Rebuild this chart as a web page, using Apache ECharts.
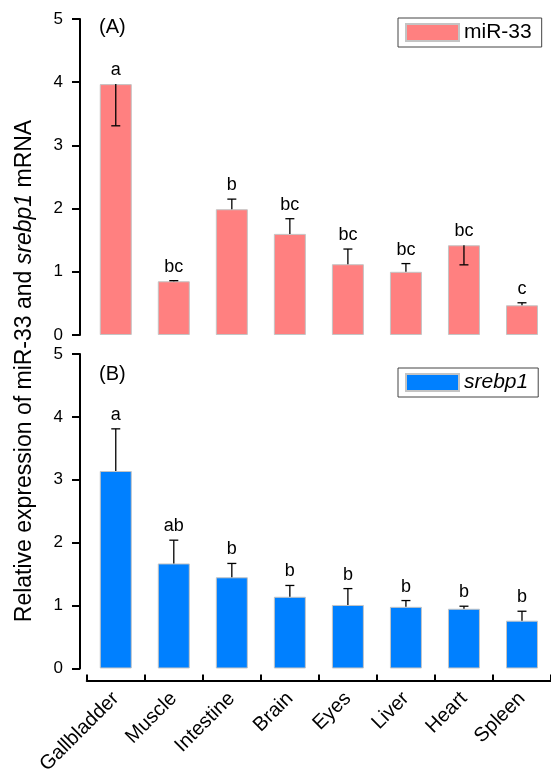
<!DOCTYPE html>
<html>
<head>
<meta charset="utf-8">
<script src="https://cdn.jsdelivr.net/npm/echarts@6/dist/echarts.min.js"></script>
<style>
  html, body { margin: 0; padding: 0; background: #fff; }
  #chart { width: 551px; height: 777px; }
</style>
</head>
<body>
<div id="chart"></div>
<script>
// Tissues along the shared x axis
const tissues = ['Gallbladder', 'Muscle', 'Intestine', 'Brain', 'Eyes', 'Liver', 'Heart', 'Spleen'];
const yTicks = [0, 1, 2, 3, 4, 5];

// (A) miR-33: bar heights, whisker ends, significance letters
const mirMean    = [3.97, 0.85, 1.99, 1.60, 1.12, 1.00, 1.42, 0.47];
const mirErrLow  = [3.31, 0.85, 1.99, 1.60, 1.12, 1.00, 1.11, 0.47];
const mirErrHigh = [3.97, 0.86, 2.15, 1.84, 1.36, 1.13, 1.42, 0.51];
const mirLetters = ['a', 'bc', 'b', 'bc', 'bc', 'bc', 'bc', 'c'];

// (B) srebp1: bar heights, whisker ends, significance letters
const srebMean    = [3.14, 1.67, 1.45, 1.14, 1.01, 0.98, 0.95, 0.76];
const srebErrLow  = [3.14, 1.67, 1.45, 1.14, 1.01, 0.98, 0.95, 0.76];
const srebErrHigh = [3.81, 2.04, 1.67, 1.32, 1.27, 1.08, 0.99, 0.91];
const srebLetters = ['a', 'ab', 'b', 'b', 'b', 'b', 'b', 'b'];

const FONT = '"Liberation Sans", Arial, Helvetica, sans-serif';
const INK = '#000';

const chart = echarts.init(document.getElementById('chart'), null, { renderer: 'canvas' });

// Whisker plus letter drawn per bar; data rows are [index, low, high, mean]
function whisker(letters) {
  return function (params, api) {
    const i = api.value(0);
    const low = api.value(1), high = api.value(2), mean = api.value(3);
    const pLow = api.coord([i, low]);
    const pHigh = api.coord([i, high]);
    const pTop = api.coord([i, Math.max(high, mean)]);
    const x = pLow[0];
    const cap = 4.5;
    const ls = { stroke: INK, lineWidth: 1.3 };
    const kids = [
      { type: 'line', shape: { x1: x, y1: pLow[1], x2: x, y2: pHigh[1] }, style: ls }
    ];
    if (high > mean) kids.push({ type: 'line', shape: { x1: x - cap, y1: pHigh[1], x2: x + cap, y2: pHigh[1] }, style: ls });
    if (low < mean) kids.push({ type: 'line', shape: { x1: x - cap, y1: pLow[1], x2: x + cap, y2: pLow[1] }, style: ls });
    kids.push({
      type: 'text', x: x, y: pTop[1] - 14,
      style: { text: letters[i], fill: INK, fontSize: 18, fontFamily: FONT, align: 'center', verticalAlign: 'middle' }
    });
    return { type: 'group', children: kids };
  };
}

function rows(low, high, mean) {
  return mean.map((m, i) => [i, low[i], high[i], m]);
}

function yAxisFor(gridIndex) {
  return {
    type: 'value', gridIndex: gridIndex,
    min: yTicks[0], max: yTicks[yTicks.length - 1], interval: 1,
    offset: 6.75,
    axisLine: { show: true, lineStyle: { color: INK, width: 2 } },
    axisTick: { show: true, inside: false, length: 8, lineStyle: { color: INK, width: 2 } },
    splitLine: { show: false },
    axisLabel: { color: INK, fontSize: 17, fontFamily: FONT, margin: 17 }
  };
}

function legendFor(name, top, italic) {
  return {
    data: [name], left: 398, top: top, orient: 'horizontal',
    icon: 'rect', itemWidth: 53, itemHeight: 17, itemGap: 0,
    padding: [4, 10, 4, 7],
    borderColor: '#444', borderWidth: 1, backgroundColor: '#fff',
    selectedMode: false,
    textStyle: { color: INK, fontSize: 21, fontFamily: FONT, fontStyle: italic ? 'italic' : 'normal' }
  };
}

const barBorder = { borderColor: '#c4c4c4', borderWidth: 1 };

chart.setOption({
  animation: false,
  backgroundColor: '#fff',
  grid: [
    { left: 86.75, width: 468, top: 19, height: 316, containLabel: false },
    { left: 86.75, width: 468, top: 354, height: 317, containLabel: false }
  ],
  xAxis: [
    { type: 'category', gridIndex: 0, data: tissues, show: false },
    {
      type: 'category', gridIndex: 1, data: tissues, offset: 12,
      axisLine: { show: true, onZero: false, lineStyle: { color: INK, width: 2 } },
      axisTick: { show: true, inside: true, length: 6, alignWithLabel: false, lineStyle: { color: INK, width: 2 } },
      axisLabel: { color: INK, fontSize: 20, fontFamily: FONT, rotate: 45, interval: 0, margin: 15 },
      splitLine: { show: false }
    }
  ],
  yAxis: [yAxisFor(0), yAxisFor(1)],
  legend: [legendFor('miR-33', 18, false), legendFor('srebp1', 368, true)],
  series: [
    {
      name: 'miR-33', type: 'bar', xAxisIndex: 0, yAxisIndex: 0, barWidth: 32,
      itemStyle: Object.assign({ color: '#FF8080' }, barBorder),
      data: mirMean
    },
    {
      type: 'custom', xAxisIndex: 0, yAxisIndex: 0, z: 5,
      renderItem: whisker(mirLetters),
      encode: { x: 0, y: [1, 2] },
      data: rows(mirErrLow, mirErrHigh, mirMean)
    },
    {
      name: 'srebp1', type: 'bar', xAxisIndex: 1, yAxisIndex: 1, barWidth: 32,
      itemStyle: Object.assign({ color: '#0080FF' }, barBorder),
      data: srebMean
    },
    {
      type: 'custom', xAxisIndex: 1, yAxisIndex: 1, z: 5,
      renderItem: whisker(srebLetters),
      encode: { x: 0, y: [1, 2] },
      data: rows(srebErrLow, srebErrHigh, srebMean)
    }
  ],
  graphic: [
    {
      type: 'text', x: 25, y: 371, rotation: Math.PI / 2,
      style: {
        text: '{n|Relative expression of miR-33 and }{i|srebp1}{n| mRNA}',
        align: 'center', verticalAlign: 'middle',
        rich: {
          n: { fontSize: 23, fontFamily: FONT, fill: INK, color: INK },
          i: { fontSize: 23, fontFamily: FONT, fontStyle: 'italic', fill: INK, color: INK }
        }
      }
    },
    { type: 'text', left: 99, top: 17, style: { text: '(A)', fontSize: 20, fontFamily: FONT, fill: INK } },
    { type: 'text', left: 99, top: 364, style: { text: '(B)', fontSize: 20, fontFamily: FONT, fill: INK } }
  ]
});
</script>
</body>
</html>
